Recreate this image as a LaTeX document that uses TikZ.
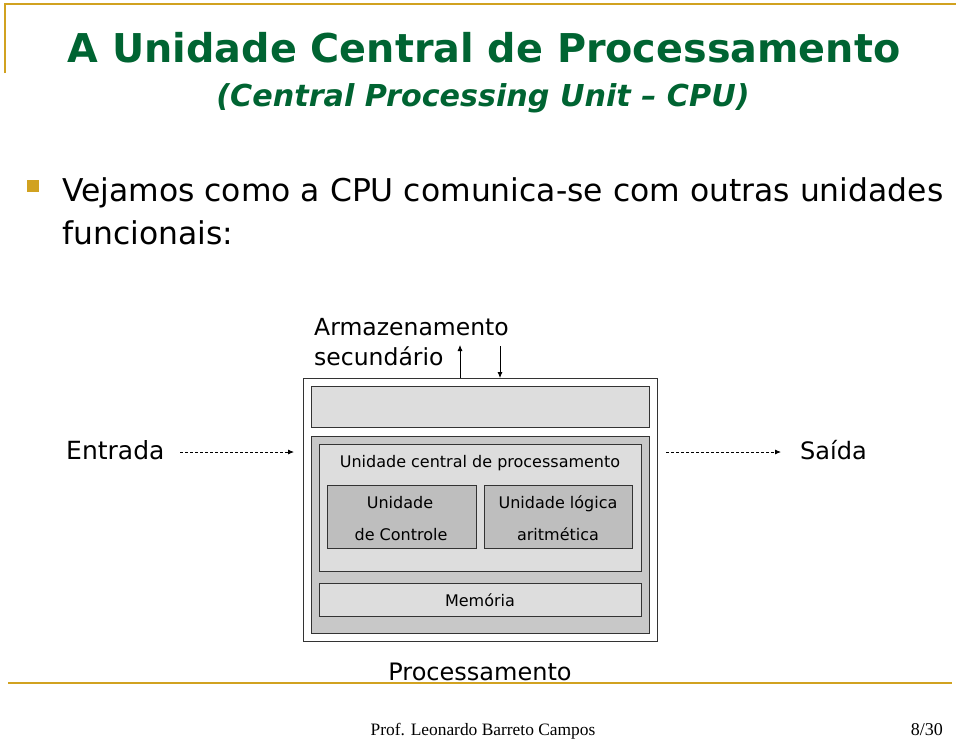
\documentclass[tikz,border=0pt]{standalone}
\usepackage{fontspec}
\setmainfont{DejaVu Sans}
\newfontfamily\footfont{Liberation Serif}
\usetikzlibrary{arrows.meta}
\definecolor{gold}{RGB}{209,162,32}
\definecolor{titlegreen}{RGB}{0,100,50}
\definecolor{boxlight}{RGB}{221,221,221}
\definecolor{boxmid}{RGB}{200,200,200}
\definecolor{boxdark}{RGB}{190,190,190}
\tikzset{
  goldline/.style={draw=gold, line width=2.5pt},
  panel/.style={draw=black!80, line width=1pt},
  txt/.style={inner sep=0pt, text=black},
  flow/.style={-{Latex[length=6pt,width=5pt]}, line width=0.8pt},
  dflow/.style={flow, dash pattern=on 3pt off 2pt},
}
\begin{document}
\begin{tikzpicture}[x=1pt,y=-1pt]
\useasboundingbox[fill=white] (0,0) rectangle (960,739);
% decorative lines
\draw[goldline] (5,73) -- (5,4) -- (956,4);
\draw[goldline] (8,683) -- (952,683);
% title
\node[txt, anchor=base, text=titlegreen, font=\fontsize{39.7}{42}\selectfont\bfseries] (title) at (484,62) {A Unidade Central de Processamento};
\node[txt, anchor=base, text=titlegreen, font=\fontsize{30.2}{33}\selectfont\bfseries\itshape] (subtitle) at (483,106) {(Central Processing Unit -- CPU)};
% bullet
\fill[gold] (27,180) rectangle (39,192);
\node[txt, anchor=base west, font=\fontsize{31.4}{34}\selectfont] (b1) at (62,201) {Vejamos como a CPU comunica-se com outras unidades};
\node[txt, anchor=base west, font=\fontsize{31.4}{34}\selectfont] (b2) at (62,244) {funcionais:};
% diagram boxes
\draw[panel, fill=white] (303,378) rectangle (657,641);
\node[panel, fill=boxlight, minimum width=338, minimum height=41, anchor=north west, inner sep=0] (storage) at (311,386) {};
\node[panel, fill=boxmid, minimum width=338, minimum height=197, anchor=north west, inner sep=0] (cpuouter) at (311,436) {};
\node[panel, fill=boxlight, minimum width=322, minimum height=127, anchor=north west, inner sep=0] (cpu) at (319,444) {};
\node[panel, fill=boxdark, minimum width=149, minimum height=63, anchor=north west, inner sep=0] (uc) at (327,485) {};
\node[panel, fill=boxdark, minimum width=148, minimum height=63, anchor=north west, inner sep=0] (ula) at (484,485) {};
\node[panel, fill=boxlight, minimum width=322, minimum height=33, anchor=north west, inner sep=0] (mem) at (319,583) {};
% box labels
\node[txt, anchor=base, font=\fontsize{16}{18}\selectfont] (cpulabel) at (480,467) {Unidade central de processamento};
\node[txt, anchor=base, font=\fontsize{16}{18}\selectfont] (uc1) at (400,508) {Unidade};
\node[txt, anchor=base, font=\fontsize{16}{18}\selectfont] (uc2) at (401,540) {de Controle};
\node[txt, anchor=base, font=\fontsize{16}{18}\selectfont] (ula1) at (558,508) {Unidade lógica};
\node[txt, anchor=base, font=\fontsize{16}{18}\selectfont] (ula2) at (558,540) {aritmética};
\node[txt, anchor=base, font=\fontsize{16}{18}\selectfont] (memlabel) at (480,606) {Memória};
% outside labels
\node[txt, anchor=base west, font=\fontsize{23.5}{26}\selectfont] (arm1) at (314,335) {Armazenamento};
\node[txt, anchor=base west, font=\fontsize{23.5}{26}\selectfont] (arm2) at (314,365) {secundário};
\node[txt, anchor=base west, font=\fontsize{25}{28}\selectfont] (entrada) at (66,459) {Entrada};
\node[txt, anchor=base west, font=\fontsize{24}{28}\selectfont] (saida) at (800,459) {Saída};
\node[txt, anchor=base, font=\fontsize{24}{28}\selectfont] (proc) at (480,680) {Processamento};
% arrows
\coordinate (upS) at (460,378);
\coordinate (upE) at (460,345);
\coordinate (dnS) at (500,346);
\coordinate (dnE) at (500,378);
\draw[flow] (upS) -- (upE);
\draw[flow] (dnS) -- (dnE);
\coordinate (inS) at (180,452);
\coordinate (inE) at (294,452);
\coordinate (outS) at (666,452);
\coordinate (outE) at (781,452);
\draw[dflow] (inS) -- (inE);
\draw[dflow] (outS) -- (outE);
% footer
\node[txt, anchor=base, font=\footfont\fontsize{17.4}{20}\selectfont] (foot) at (483,735) {Prof. Leonardo Barreto Campos};
\node[txt, anchor=base east, font=\footfont\fontsize{18}{20}\selectfont] (page) at (943,735) {8/30};
\end{tikzpicture}
\end{document}
